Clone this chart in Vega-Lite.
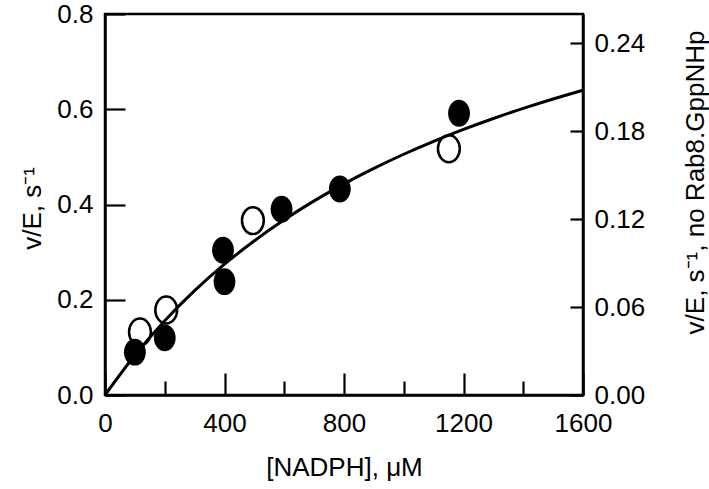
{
  "$schema": "https://vega.github.io/schema/vega-lite/v6.json",
  "width": 478,
  "height": 381,
  "autosize": {"type": "none"},
  "padding": {"left": 105, "top": 14, "right": 126, "bottom": 94},
  "background": "white",
  "view": {"stroke": "black", "strokeWidth": 2.5},
  "config": {
    "font": "Liberation Sans",
    "axis": {
      "labelFont": "Liberation Sans",
      "labelFontSize": 26,
      "labelColor": "black",
      "titleFont": "Liberation Sans",
      "titleFontSize": 26,
      "titleFontWeight": "normal",
      "titleColor": "black",
      "tickColor": "black",
      "tickWidth": 2.2,
      "domainColor": "black",
      "domainWidth": 2.5,
      "grid": false
    }
  },
  "datasets": {
    "curve": [
      {"S": 0, "v": 0}, {"S": 100, "v": 0.0836}, {"S": 200, "v": 0.1559},
      {"S": 300, "v": 0.219}, {"S": 400, "v": 0.2746}, {"S": 500, "v": 0.3239},
      {"S": 600, "v": 0.368}, {"S": 700, "v": 0.4076}, {"S": 800, "v": 0.4434},
      {"S": 900, "v": 0.4759}, {"S": 1000, "v": 0.5055}, {"S": 1100, "v": 0.5326},
      {"S": 1200, "v": 0.5576}, {"S": 1300, "v": 0.5806}, {"S": 1400, "v": 0.6019},
      {"S": 1500, "v": 0.6216}, {"S": 1600, "v": 0.64}
    ],
    "open": [
      {"S": 117, "v": 0.043},
      {"S": 205, "v": 0.058},
      {"S": 495, "v": 0.119},
      {"S": 1151, "v": 0.168}
    ],
    "filled": [
      {"S": 100, "v": 0.09},
      {"S": 200, "v": 0.12},
      {"S": 395, "v": 0.304},
      {"S": 400, "v": 0.238},
      {"S": 591, "v": 0.39},
      {"S": 786, "v": 0.4325},
      {"S": 1185, "v": 0.5915}
    ]
  },
  "layer": [
    {
      "data": {"name": "curve"},
      "mark": {"type": "line", "color": "black", "strokeWidth": 3, "interpolate": "monotone"},
      "encoding": {
        "x": {
          "field": "S", "type": "quantitative",
          "scale": {"domain": [0, 1600], "nice": false, "zero": false},
          "axis": {
            "orient": "bottom",
            "title": "[NADPH], μM",
            "titleX": 239,
            "titleY": 80,
            "titleAlign": "center",
            "titleBaseline": "alphabetic",
            "values": [0, 400, 800, 1200, 1600],
            "format": "d",
            "tickSize": -22,
            "labelPadding": 37,
            "labelFlush": false,
            "labelOverlap": false
          }
        },
        "y": {
          "field": "v", "type": "quantitative",
          "scale": {"domain": [0, 0.8], "nice": false, "zero": false},
          "axis": {
            "orient": "left",
            "title": "v/E, s⁻¹",
            "titleAngle": 270,
            "titleX": -65,
            "titleY": 194,
            "titleAlign": "center",
            "titleBaseline": "alphabetic",
            "values": [0, 0.2, 0.4, 0.6, 0.8],
            "format": ".1f",
            "tickSize": -20,
            "labelPadding": 32,
            "labelFlush": false,
            "labelOverlap": false
          }
        }
      }
    },
    {
      "data": {"name": "open"},
      "mark": {"type": "point", "shape": "M0,-1.17A0.95,1.17,0,1,1,0,1.17A0.95,1.17,0,1,1,0,-1.17Z", "size": 529, "filled": false, "stroke": "black", "strokeWidth": 2.5, "opacity": 1},
      "encoding": {
        "x": {
          "field": "S", "type": "quantitative",
          "scale": {"domain": [0, 1600], "nice": false, "zero": false},
          "axis": {
            "orient": "bottom",
            "title": null,
            "values": [200, 600, 1000, 1400],
            "labels": false,
            "domain": false,
            "tickSize": -14
          }
        },
        "y": {
          "field": "v", "type": "quantitative",
          "scale": {"domain": [0, 0.26], "nice": false, "zero": false},
          "axis": {
            "orient": "right",
            "title": "v/E, s⁻¹, no Rab8.GppNHp",
            "titleAngle": 270,
            "titleX": 120,
            "titleY": 168,
            "titleAlign": "center",
            "titleBaseline": "alphabetic",
            "values": [0, 0.06, 0.12, 0.18, 0.24],
            "format": ".2f",
            "tickSize": -13,
            "labelPadding": 24,
            "labelFlush": false,
            "labelOverlap": false
          }
        }
      }
    },
    {
      "data": {"name": "filled"},
      "mark": {"type": "point", "shape": "M0,-1.17A0.95,1.17,0,1,1,0,1.17A0.95,1.17,0,1,1,0,-1.17Z", "size": 529, "filled": true, "fill": "black", "opacity": 1},
      "encoding": {
        "x": {
          "field": "S", "type": "quantitative",
          "scale": {"domain": [0, 1600], "nice": false, "zero": false},
          "axis": null
        },
        "y": {
          "field": "v", "type": "quantitative",
          "scale": {"domain": [0, 0.8], "nice": false, "zero": false},
          "axis": null
        }
      }
    }
  ],
  "resolve": {"scale": {"x": "independent", "y": "independent"}}
}
